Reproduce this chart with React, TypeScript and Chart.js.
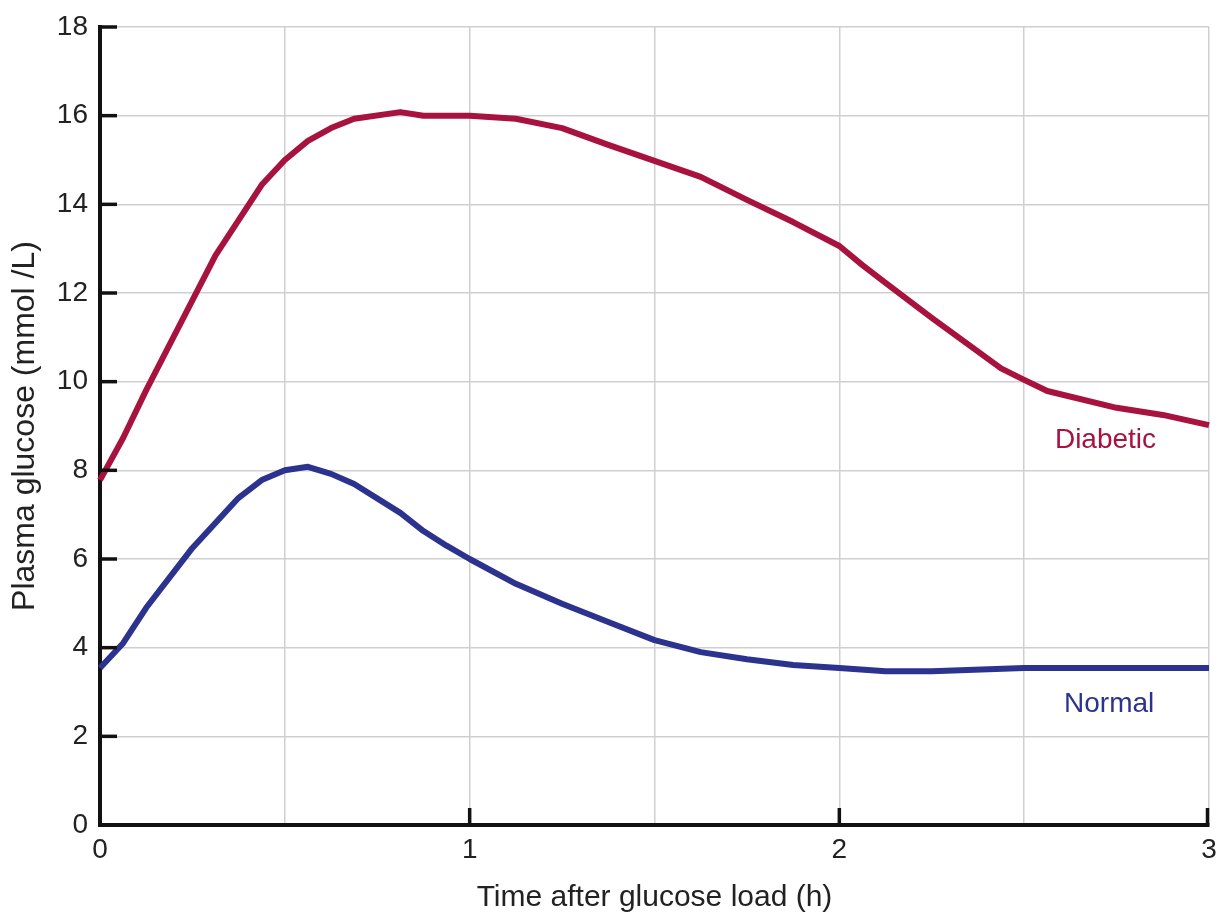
import React, { useEffect, useRef } from "react";
import { Chart, registerables } from "chart.js";

Chart.register(...registerables);

const hours = [0, 0.0625, 0.125, 0.3125, 0.4375, 0.5, 0.5625, 0.625, 0.6875, 0.8125, 0.875, 1.0, 1.125, 1.25, 1.375, 1.5, 1.625, 1.75, 1.875, 2.0, 2.0625, 2.125, 2.25, 2.4375, 2.5, 2.5625, 2.75, 2.875, 3.0];
const diabetic = [7.78, 8.73, 9.81, 12.85, 14.44, 15.0, 15.43, 15.72, 15.93, 16.08, 16.0, 16.0, 15.93, 15.72, 15.34, 14.98, 14.62, 14.1, 13.6, 13.06, 12.63, 12.23, 11.44, 10.3, 10.04, 9.79, 9.41, 9.25, 9.02];

const normalHours = [0, 0.0625, 0.125, 0.25, 0.375, 0.4375, 0.5, 0.5625, 0.625, 0.6875, 0.8125, 0.875, 0.9375, 1.0, 1.125, 1.25, 1.375, 1.5, 1.625, 1.75, 1.875, 2.0, 2.125, 2.25, 2.5, 3.0];
const normal = [3.54, 4.1, 4.9, 6.25, 7.38, 7.78, 8.0, 8.08, 7.92, 7.69, 7.04, 6.63, 6.3, 6.0, 5.44, 4.99, 4.58, 4.17, 3.9, 3.74, 3.61, 3.54, 3.47, 3.47, 3.54, 3.54];

const seriesLabels = [
  { text: "Diabetic", x: 2.72, y: 8.68, color: "#a8123f" },
  { text: "Normal", x: 2.73, y: 2.73, color: "#2c338f" },
];

const xTitle = "Time after glucose load (h)";
const yTitle = "Plasma glucose (mmol /L)";
const FONT = "'Liberation Sans', Arial, Helvetica, sans-serif";

const innerTicks = {
  id: "innerTicks",
  afterDatasetsDraw(chart: any) {
    const { ctx, chartArea, scales } = chart;
    const xs = scales.x;
    const ys = scales.y;
    ctx.save();
    ctx.strokeStyle = "#111";
    ctx.lineWidth = 3.5;
    ctx.lineCap = "butt";
    for (let v = 2; v <= 18; v += 2) {
      const py = ys.getPixelForValue(v);
      ctx.beginPath();
      ctx.moveTo(chartArea.left, py);
      ctx.lineTo(chartArea.left + 17, py);
      ctx.stroke();
    }
    for (let v = 1; v <= 3; v += 1) {
      const px = xs.getPixelForValue(v) - (v === 3 ? 1.5 : 0);
      ctx.beginPath();
      ctx.moveTo(px, chartArea.bottom);
      ctx.lineTo(px, chartArea.bottom - 17);
      ctx.stroke();
    }
    ctx.font = `28px ${FONT}`;
    ctx.textAlign = "center";
    ctx.textBaseline = "middle";
    for (const l of seriesLabels) {
      ctx.fillStyle = l.color;
      ctx.fillText(l.text, xs.getPixelForValue(l.x), ys.getPixelForValue(l.y));
    }
    ctx.restore();
  },
};

export default function App() {
  const ref = useRef<HTMLCanvasElement | null>(null);
  useEffect(() => {
    document.body.style.margin = "0";
    document.body.style.background = "#ffffff";
    const canvas = ref.current!;
    const chart = new Chart(canvas, {
      type: "line",
      data: {
        datasets: [
          {
            label: "Diabetic",
            data: hours.map((h, i) => ({ x: h, y: diabetic[i] })),
            borderColor: "#a8123f",
            borderWidth: 6,
            pointRadius: 0,
            tension: 0,
            fill: false,
            borderJoinStyle: "round",
            borderCapStyle: "butt",
          },
          {
            label: "Normal",
            data: normalHours.map((h, i) => ({ x: h, y: normal[i] })),
            borderColor: "#2c338f",
            borderWidth: 6,
            pointRadius: 0,
            tension: 0,
            fill: false,
            borderJoinStyle: "round",
            borderCapStyle: "butt",
          },
        ],
      },
      options: {
        animation: false,
        responsive: false,
        maintainAspectRatio: false,
        clip: false as any,
        layout: { padding: { top: 27, right: 13, left: 0, bottom: 0 } },
        plugins: {
          legend: { display: false },
          tooltip: { enabled: false },
          title: { display: false },
        },
        scales: {
          x: {
            type: "linear",
            min: 0,
            max: 3,
            afterFit: (s: any) => {
              s.height = 91;
              s.paddingLeft = 0;
              s.paddingRight = 0;
            },
            ticks: {
              stepSize: 0.5,
              autoSkip: false,
              maxRotation: 0,
              padding: 8,
              color: "#222",
              font: { family: FONT, size: 28 },
              callback: (v: any) => (Number(v) % 1 === 0 ? String(v) : ""),
            },
            grid: { color: "#cfcfcf", lineWidth: 1.5, drawTicks: false },
            border: { display: true, color: "#111", width: 4 },
            title: {
              display: true,
              text: xTitle,
              color: "#222",
              font: { family: FONT, size: 30, lineHeight: 1.2 },
              padding: { top: 0, bottom: 0 },
            },
          },
          y: {
            type: "linear",
            min: 0,
            max: 18,
            afterFit: (s: any) => {
              s.width = 100;
              s.paddingTop = 0;
              s.paddingBottom = 0;
            },
            ticks: {
              stepSize: 2,
              padding: 12,
              color: "#222",
              font: { family: FONT, size: 28 },
            },
            grid: { color: "#cfcfcf", lineWidth: 1.5, drawTicks: false },
            border: { display: true, color: "#111", width: 4 },
            title: {
              display: true,
              text: yTitle,
              color: "#222",
              font: { family: FONT, size: 32, lineHeight: 1.2 },
              padding: { top: 6, bottom: 0 },
            },
          },
        },
      },
      plugins: [innerTicks],
    } as any);
    return () => chart.destroy();
  }, []);
  return (
    <div style={{ width: 1222, height: 916, background: "#fff" }}>
      <canvas ref={ref} width={1222} height={916} style={{ display: "block" }} />
    </div>
  );
}
